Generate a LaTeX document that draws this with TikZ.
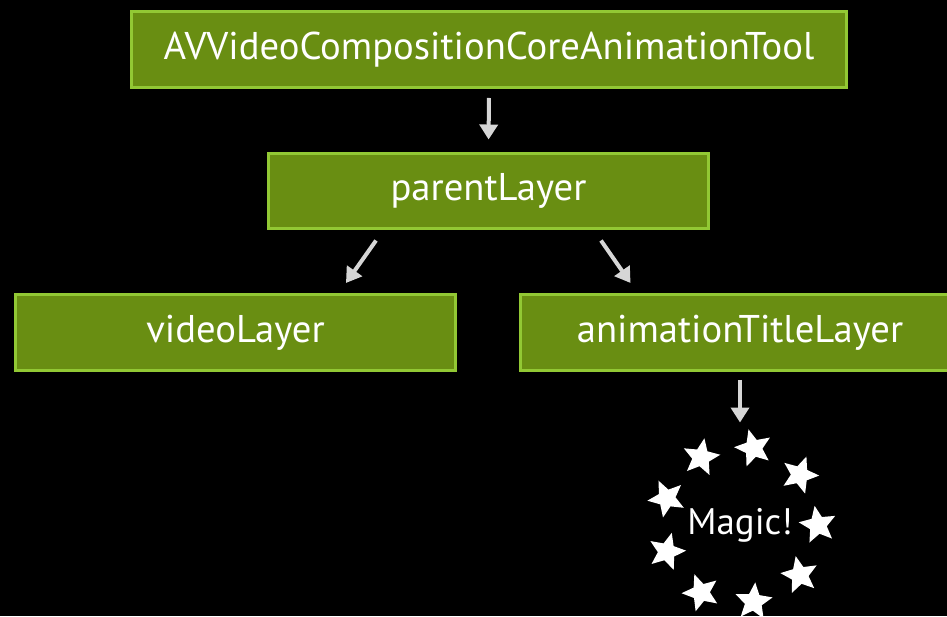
\documentclass[tikz,border=0pt]{standalone}
\usepackage{fontspec}
\setmainfont{PT Sans}
\usepackage{tikz}
\usetikzlibrary{arrows.meta,shapes.geometric}
\definecolor{layerfill}{RGB}{105,142,18}
\definecolor{layerline}{RGB}{146,200,52}
\definecolor{arrowgray}{RGB}{214,214,214}

\begin{document}
\begin{tikzpicture}[x=0.02cm,y=-0.02cm,>={Triangle[width=0.36cm,length=0.3cm]},
                    semithick]
  \tikzstyle{layer}=[rectangle,fill=layerfill,draw=layerline,line width=0.06cm,
    minimum height=1.52cm,text=white,font=\fontsize{22}{26}\selectfont]
  \tikzstyle{flow}=[->,draw=arrowgray,line width=0.08cm]
  \tikzstyle{sparkle}=[star,star points=5,star point ratio=2.2,fill=white,
    inner sep=0pt,minimum size=0.78cm]

  \fill[black] (0,0) rectangle (947,616);
  \useasboundingbox (0,0) rectangle (947,616);

  \node[layer,minimum width=14.3cm] (tool) at (489,49.5) {AVVideoCompositionCoreAnimationTool};
  \node[layer,minimum width=8.8cm] (parent) at (488.5,191) {parentLayer};
  \node[layer,minimum width=8.8cm] (video) at (235.5,332.5) {videoLayer};
  \node[layer,minimum width=8.8cm] (title) at (740,332.5) {animationTitleLayer};

  \node[circle,minimum size=3.6cm,text=white,
        font=\fontsize{21}{25}\selectfont] (magic) at (740,525) {Magic!};
  \foreach \a/\r in {0/10,40/-20,80/15,120/-10,160/25,200/-15,240/20,280/-5,320/12}
    \node[sparkle,rotate=\r] (star\a) at ([shift={(\a:1.56cm)}]magic.center) {};

  \draw[flow,shorten <=0.18cm,shorten >=0.24cm] (tool.south) -- (parent.north);
  \draw[flow] ([shift={(2.18cm,-0.2cm)}]parent.south west) -- ([shift={(-2.22cm,0.2cm)}]video.north east);
  \draw[flow] ([shift={(-2.18cm,-0.2cm)}]parent.south east) -- ([shift={(2.24cm,0.2cm)}]title.north west);
  \draw[flow,shorten <=0.16cm,shorten >=0.24cm] (title.south) -- (magic.north);
\end{tikzpicture}
\end{document}
